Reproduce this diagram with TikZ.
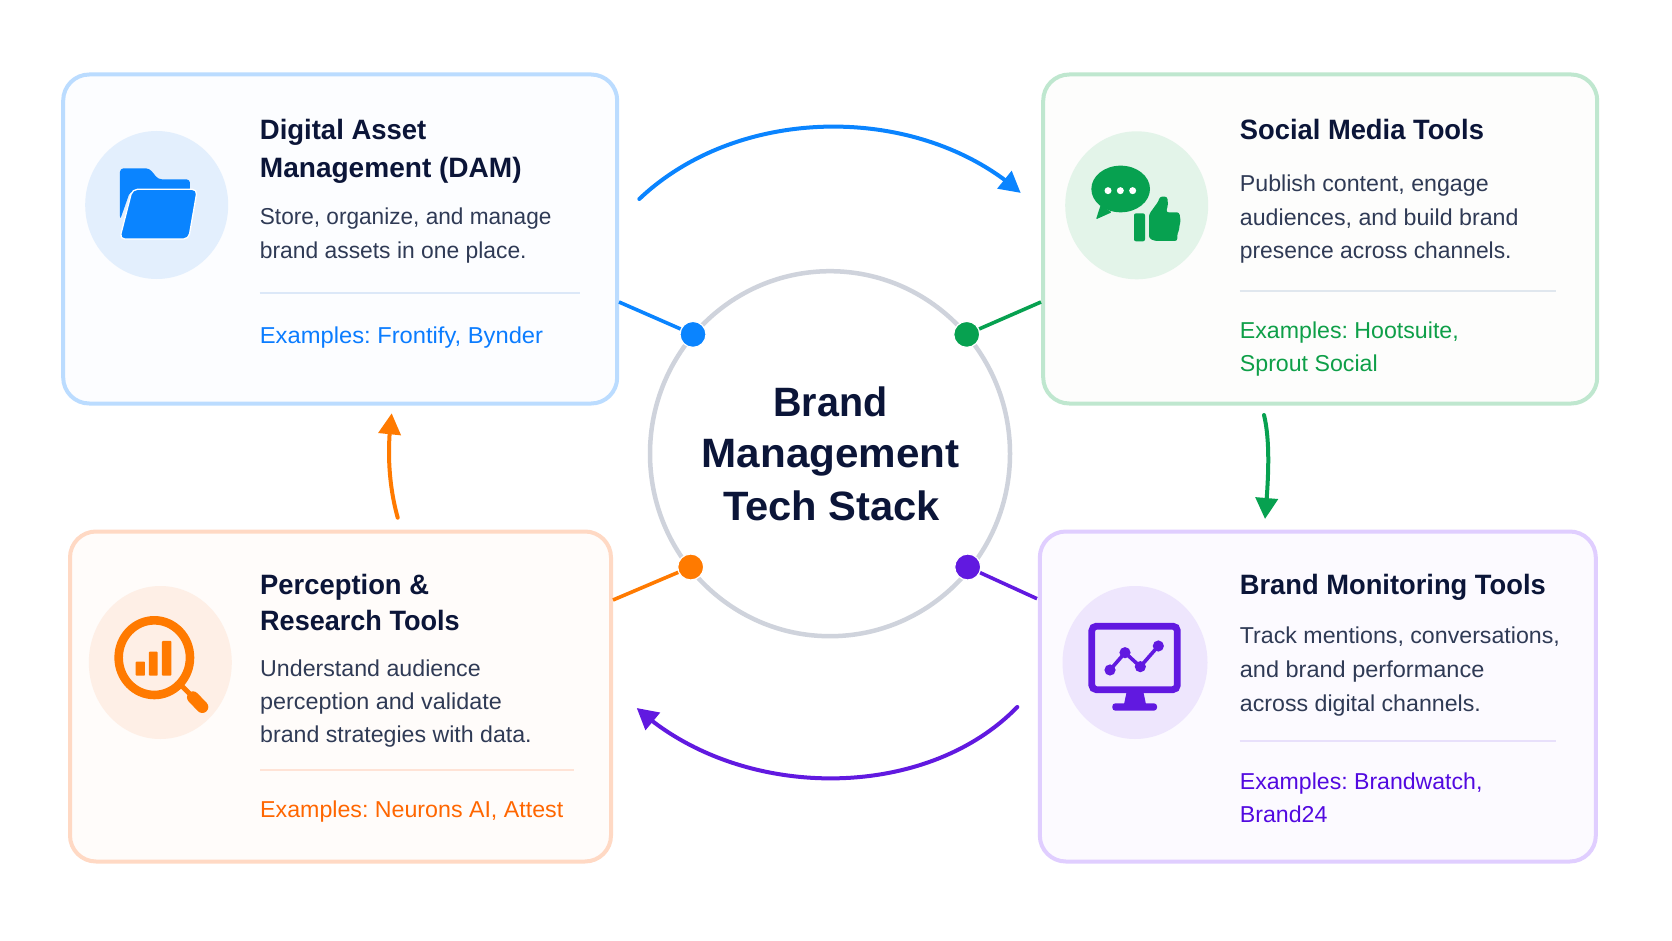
\documentclass[tikz,border=0pt]{standalone}
\usepackage{fontspec}
\setmainfont{Liberation Sans}
\frenchspacing
\usetikzlibrary{arrows.meta,shapes.geometric,bending}
\definecolor{cblue}{HTML}{0A84FF}
\definecolor{cgreen}{HTML}{07A150}
\definecolor{corange}{HTML}{FF7A00}
\definecolor{cpurple}{HTML}{6119E0}
\definecolor{tblue}{HTML}{0A7CFF}
\definecolor{tgreen}{HTML}{0E9F48}
\definecolor{torange}{HTML}{FF6600}
\definecolor{tpurple}{HTML}{5209E0}
\definecolor{navy}{HTML}{0B1538}
\definecolor{slate}{HTML}{2F3A55}
\definecolor{hubline}{HTML}{CFD3DC}
\definecolor{bdblue}{HTML}{BBDCFF}
\definecolor{bdgreen}{HTML}{BFE7CF}
\definecolor{bdorange}{HTML}{FFD9C4}
\definecolor{bdpurple}{HTML}{E0CEFF}
\definecolor{fblue}{HTML}{FCFDFF}
\definecolor{fgreen}{HTML}{FDFDFC}
\definecolor{forange}{HTML}{FFFCFA}
\definecolor{fpurple}{HTML}{FCFAFF}
\definecolor{dblue}{HTML}{E3EFFD}
\definecolor{dgreen}{HTML}{E3F4E9}
\definecolor{dorange}{HTML}{FEEFE6}
\definecolor{dpurple}{HTML}{EEE6FD}
\definecolor{sblue}{HTML}{DCE8F8}
\definecolor{sgreen}{HTML}{E0E7EE}
\definecolor{sorange}{HTML}{FFE3D6}
\definecolor{spurple}{HTML}{E8E0FB}
\newcommand{\fitw}[2]{\resizebox{#1pt}{\height}{#2}}
\tikzset{
  card/.style 2 args={draw=#1,fill=#2,line width=4pt,rounded corners=26pt,inner sep=0pt},
  disc/.style={ellipse,fill=#1,inner sep=0pt},
  ttl/.style={anchor=base west,inner sep=0pt,text=navy,font=\fontsize{28}{32}\selectfont\bfseries},
  bod/.style={anchor=base west,inner sep=0pt,text=slate,font=\fontsize{23}{26}\selectfont},
  exa/.style={anchor=base west,inner sep=0pt,text=#1,font=\fontsize{23}{26}\selectfont},
  hubt/.style={anchor=base,inner sep=0pt,text=navy,font=\fontsize{41}{48}\selectfont\bfseries},
  dot/.style={circle,fill=#1,draw=white,line width=1.2pt,minimum size=26pt,inner sep=0pt},
  link/.style={draw=#1,line width=3.6pt},
  flow/.style={draw=#1,line width=4pt,line cap=round,-{Triangle[length=21pt,width=22pt,flex=1]}},
  sep/.style={draw=#1,line width=2.2pt}
}
\begin{document}
\begin{tikzpicture}[x=1pt,y=-1pt]
\useasboundingbox[fill=white] (0,0) rectangle (1672,941);

% cards
\node[card={bdblue}{fblue},minimum width=554pt,minimum height=329pt] (dam) at (340.2,239) {};
\node[card={bdgreen}{fgreen},minimum width=554pt,minimum height=329pt] (soc) at (1320.2,239) {};
\node[card={bdorange}{forange},minimum width=541pt,minimum height=330pt] (per) at (340.5,696.5) {};
\node[card={bdpurple}{fpurple},minimum width=556pt,minimum height=330pt] (mon) at (1317.8,696.5) {};

% ports on the card edges
\coordinate (damp) at (619,302);
\coordinate (socp) at (1041,302);
\coordinate (perp) at (613,600);
\coordinate (monp) at (1037,598.7);

% hub
\node[ellipse,draw=hubline,line width=4.5pt,fill=white,minimum width=360pt,minimum height=365pt,inner sep=0pt] (hub) at (830,453.7) {};
\node[dot=cblue] (pblue) at (693,334.4) {};
\node[dot=cgreen] (pgreen) at (966.7,334.4) {};
\node[dot=corange] (porange) at (690.7,567) {};
\node[dot=cpurple] (ppurple) at (967.7,567) {};
\draw[link=cblue] (damp) -- (pblue);
\draw[link=cgreen] (socp) -- (pgreen);
\draw[link=corange] (perp) -- (porange);
\draw[link=cpurple] (monp) -- (ppurple);
\node[hubt] (hub1) at (830.3,416) {\fitw{114}{Brand}};
\node[hubt] (hub2) at (830.8,467) {\fitw{258}{Management}};
\node[hubt] (hub3) at (831.6,520) {\fitw{217}{Tech Stack}};

% flow arrows
\coordinate (a1s) at (639.3,199);
\coordinate (a1e) at (1020.7,192.9);
\draw[flow=cblue] (a1s) .. controls (740,103.5) and (920,103.5) .. (a1e);
\coordinate (a2s) at (1264,415);
\coordinate (a2e) at (1265,519);
\draw[flow=cgreen] (a2s) .. controls (1270,440) and (1269,475) .. (a2e);
\coordinate (a3s) at (1017.3,707);
\coordinate (a3e) at (636.7,708);
\draw[flow=cpurple] (a3s) .. controls (925,802) and (740,802) .. (a3e);
\coordinate (a4s) at (397.7,517.7);
\coordinate (a4e) at (391.7,413.3);
\draw[flow=corange] (a4s) .. controls (390,490) and (386,455) .. (a4e);

% icon discs
\node[disc=dblue,minimum width=143pt,minimum height=148pt] (dami) at (156.7,205) {};
\node[disc=dgreen,minimum width=143pt,minimum height=148pt] (soci) at (1136.7,205.3) {};
\node[disc=dorange,minimum width=143pt,minimum height=153pt] (peri) at (160.3,662.5) {};
\node[disc=dpurple,minimum width=145pt,minimum height=153pt] (moni) at (1135,662.5) {};

% folder icon
\begin{scope}[shift={(80,120)},x=.3333pt,y=-.3333pt]
\fill[cblue,rounded corners=3.5pt] (120,300) -- (120,145) -- (208,145) -- (235,178) -- (330,178) -- (330,215) -- (150,215) -- cycle;
\fill[cblue,draw=white,line width=1.3pt,rounded corners=5pt] (157,208) -- (352,208) -- (326,357) -- (119,357) -- cycle;
\end{scope}

% chat and thumb icon
\begin{scope}[shift={(1060,125)},x=.3333pt,y=-.3333pt]
\fill[cgreen,rounded corners=1pt] (122,240) -- (108,283) -- (155,262) -- cycle;
\fill[cgreen] (182,192) ellipse [x radius=88,y radius=70];
\fill[white] (144,197) circle [radius=3.5pt] (181,197) circle [radius=3.5pt] (218,197) circle [radius=3.5pt];
\fill[cgreen,rounded corners=2pt] (222,265) rectangle (255,349);
\fill[cgreen,rounded corners=2.5pt] (267,268) -- (296,228) -- (299,215) -- (322,215) -- (324,240) -- (318,262) -- (358,262) -- (362,290) -- (358,300) -- (358,315) -- (352,325) -- (352,348) -- (285,348) -- (267,340) -- cycle;
\end{scope}

% magnifier icon
\begin{scope}[shift={(85,585)},x=.3333pt,y=-.3333pt]
\draw[corange,line width=8.6pt] (208,218) ellipse [x radius=107,y radius=112];
\draw[corange,line width=5pt] (280,293) -- (318,330);
\draw[corange,line width=12pt,line cap=round] (324,337) -- (352,366);
\fill[corange,rounded corners=.8pt] (152,230) rectangle (180,272) (192,200) rectangle (218,272) (231,168) rectangle (259,272);
\end{scope}

% monitor icon
\begin{scope}[shift={(1060,585)},x=.3333pt,y=-.3333pt]
\draw[cpurple,line width=6.8pt,rounded corners=4.5pt] (95.5,123.5) rectangle (352,314);
\fill[cpurple] (200,320) -- (250,320) -- (258,358) -- (192,358) -- cycle;
\fill[cpurple,rounded corners=3pt] (157,355) rectangle (291,377);
\draw[cpurple,line width=3.6pt] (150,255) -- (195,203) -- (241,245) -- (295,183);
\fill[cpurple] (150,255) circle [radius=5.6pt] (195,203) circle [radius=5.6pt] (241,245) circle [radius=5.6pt] (295,183) circle [radius=5.6pt];
\end{scope}

% DAM text
\node[ttl] (damt1) at (259.7,139.3) {\fitw{166.5}{Digital Asset}};
\node[ttl] (damt2) at (259.7,177.3) {\fitw{261.8}{Management (DAM)}};
\node[bod] (damb1) at (259.7,224.3) {\fitw{291.6}{Store, organize, and manage}};
\node[bod] (damb2) at (259.7,258.3) {\fitw{266.7}{brand assets in one place.}};
\coordinate (dams1) at (259.7,292.7);
\coordinate (dams2) at (580,292.7);
\draw[sep=sblue] (dams1) -- (dams2);
\node[exa=tblue] (dame) at (259.7,343.7) {\fitw{283.2}{Examples: Frontify, Bynder}};

% Social text
\node[ttl] (soct1) at (1239.7,139.3) {\fitw{244}{Social Media Tools}};
\node[bod] (socb1) at (1239.7,191.3) {\fitw{248.8}{Publish content, engage}};
\node[bod] (socb2) at (1239.7,225.4) {\fitw{278.6}{audiences, and build brand}};
\node[bod] (socb3) at (1239.7,258.7) {\fitw{271.7}{presence across channels.}};
\coordinate (socs1) at (1239.7,290.7);
\coordinate (socs2) at (1556,290.7);
\draw[sep=sgreen] (socs1) -- (socs2);
\node[exa=tgreen] (soce1) at (1239.7,338) {\fitw{218.9}{Examples: Hootsuite,}};
\node[exa=tgreen] (soce2) at (1239.7,371.8) {\fitw{137.8}{Sprout Social}};

% Perception text
\node[ttl] (pert1) at (260,594) {\fitw{168.9}{Perception \&}};
\node[ttl] (pert2) at (260,630.3) {\fitw{199.5}{Research Tools}};
\node[bod] (perb1) at (260,676.7) {\fitw{220.6}{Understand audience}};
\node[bod] (perb2) at (260,709.3) {\fitw{241.6}{perception and validate}};
\node[bod] (perb3) at (260,742.7) {\fitw{271.5}{brand strategies with data.}};
\coordinate (pers1) at (260,770.3);
\coordinate (pers2) at (573.5,770.3);
\draw[sep=sorange] (pers1) -- (pers2);
\node[exa=torange] (pere) at (260,817) {\fitw{303}{Examples: Neurons AI, Attest}};

% Monitoring text
\node[ttl] (mont1) at (1239.7,594.7) {\fitw{305.8}{Brand Monitoring Tools}};
\node[bod] (monb1) at (1239.7,643.7) {\fitw{320}{Track mentions, conversations,}};
\node[bod] (monb2) at (1239.7,677.7) {\fitw{244.5}{and brand performance}};
\node[bod] (monb3) at (1239.7,711) {\fitw{241}{across digital channels.}};
\coordinate (mons1) at (1239.7,741);
\coordinate (mons2) at (1556,741);
\draw[sep=spurple] (mons1) -- (mons2);
\node[exa=tpurple] (mone1) at (1239.7,789) {\fitw{242.6}{Examples: Brandwatch,}};
\node[exa=tpurple] (mone2) at (1239.7,822.8) {\fitw{87.6}{Brand24}};
\end{tikzpicture}
\end{document}
